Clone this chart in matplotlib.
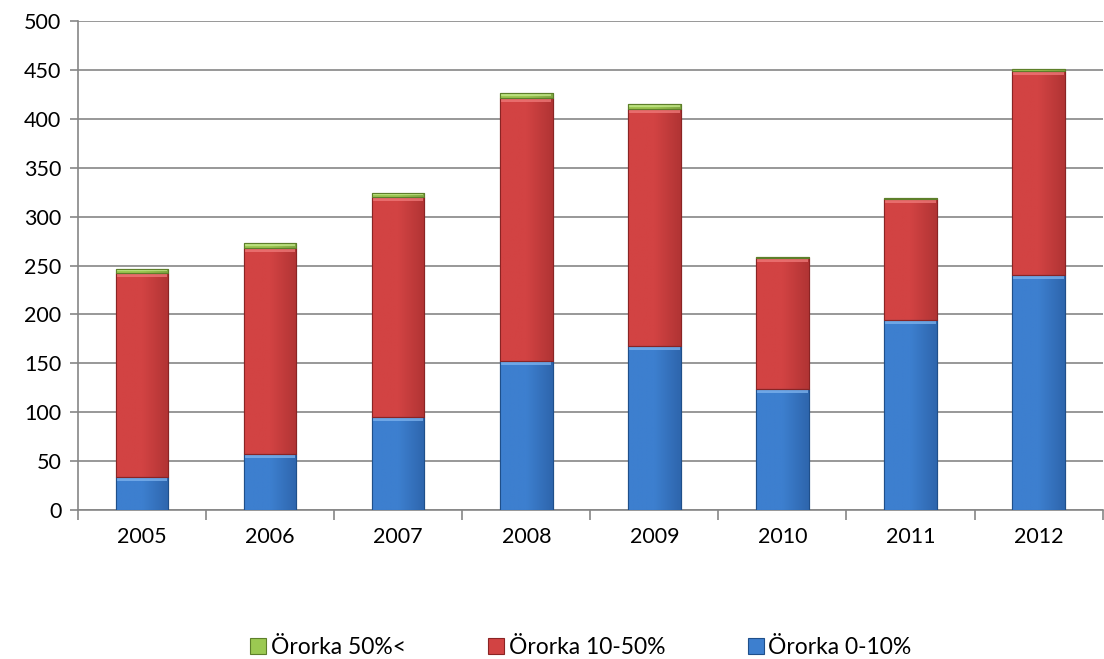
import matplotlib
matplotlib.use("Agg")
import matplotlib.pyplot as plt
import numpy as np
from matplotlib.patches import Rectangle
from matplotlib.colors import LinearSegmentedColormap

years = ["2005", "2006", "2007", "2008", "2009", "2010", "2011", "2012"]
orka_0_10 = [34, 57, 95, 152, 168, 124, 194, 240]
orka_10_50 = [208, 211, 225, 269, 242, 134, 124, 209]
orka_50 = [4, 5, 4, 5, 5, 1, 1, 2]

labels = ["Örorka 50%<", "Örorka 10-50%", "Örorka 0-10%"]
colors = {"blue": "#3d7fcf", "red": "#d24343", "green": "#9bc952"}
edges = {"blue": "#1f4f8a", "red": "#8a2424", "green": "#5d7f2a"}
lights = {"blue": "#7fb4ee", "red": "#f07b7b", "green": "#c6e88c"}
darks = {"blue": "#2e66ad", "red": "#b13434", "green": "#7fa842"}

plt.rcParams["font.family"] = ["Lato", "DejaVu Sans"]

fig = plt.figure(figsize=(11.04, 6.59), dpi=100)
ax = fig.add_axes([0.0707, 0.226, 0.928, 0.742])

x = np.arange(len(years))
w = 0.41
bottom = np.zeros(len(years))
grad = np.linspace(0, 1, 64).reshape(1, -1)
for vals, key in [(orka_0_10, "blue"), (orka_10_50, "red"), (orka_50, "green")]:
    vals = np.array(vals, dtype=float)
    bars = ax.bar(x, vals, w, bottom=bottom, color=colors[key],
                  edgecolor=edges[key], linewidth=0.8, zorder=3)
    cmap = LinearSegmentedColormap.from_list(key, [colors[key], colors[key], darks[key]])
    for p in bars:
        bx, by = p.get_x(), p.get_y()
        bw, bh = p.get_width(), p.get_height()
        if bh <= 0:
            continue
        im = ax.imshow(grad, cmap=cmap, aspect="auto", zorder=3.5,
                       extent=(bx, bx + bw, by, by + bh), interpolation="bilinear")
        im.set_clip_path(p)
    # light bevel strip at the top of each segment
    hl = np.minimum(vals * 0.5, 4.0)
    ax.bar(x, hl, w * 0.96, bottom=bottom + vals - hl, color=lights[key],
           linewidth=0, zorder=4, alpha=0.75)
    ax.bar(x, vals, w, bottom=bottom, color="none",
           edgecolor=edges[key], linewidth=0.8, zorder=4.5)
    bottom += vals

ax.set_ylim(0, 500)
ax.set_xlim(-0.5, len(years) - 0.5)
ax.set_yticks(np.arange(0, 501, 50))
ax.set_xticks(x)
ax.set_xticklabels(years)
ax.set_xticks(np.arange(-0.5, len(years), 1.0), minor=True)
ax.tick_params(axis="x", which="major", length=0, pad=12, labelsize=15.5)
ax.tick_params(axis="x", which="minor", length=7, color="#868686", width=1.2, direction="out")
ax.tick_params(axis="y", length=6, color="#868686", width=1.2, labelsize=15.5, pad=6)
ax.yaxis.grid(True, color="#868686", linewidth=1.2, zorder=0)
ax.set_axisbelow(True)
for s in ("top", "right"):
    ax.spines[s].set_visible(False)
for s in ("left", "bottom"):
    ax.spines[s].set_color("#868686")
    ax.spines[s].set_linewidth(1.2)

leg_handles = [Rectangle((0, 0), 1, 1, facecolor=colors[k], edgecolor=edges[k], linewidth=0.8)
               for k in ("green", "red", "blue")]
fig.legend(leg_handles, labels, loc="center", bbox_to_anchor=(0.526, 0.017),
           ncol=3, frameon=False, fontsize=16.5, handlelength=0.7, handleheight=0.7,
           handletextpad=0.2, columnspacing=3.6)

fig.savefig("out.png", dpi=100)
